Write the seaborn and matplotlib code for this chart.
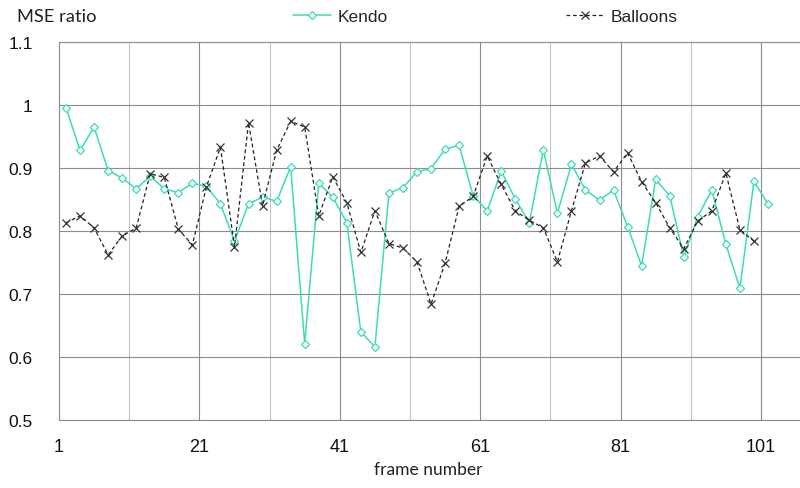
import numpy as np
import pandas as pd
import matplotlib
matplotlib.use('Agg')
import matplotlib.pyplot as plt
from matplotlib.ticker import FixedLocator
import seaborn as sns

# frame numbers (every second frame)
kendo_frames = np.arange(2, 103, 2)
balloons_frames = np.arange(2, 101, 2)

kendo_mse = [0.996, 0.928, 0.965, 0.896, 0.884, 0.867, 0.887, 0.867, 0.861, 0.876,
             0.871, 0.843, 0.784, 0.843, 0.854, 0.847, 0.902, 0.621, 0.876, 0.854,
             0.813, 0.640, 0.616, 0.860, 0.869, 0.894, 0.899, 0.930, 0.936, 0.856,
             0.832, 0.895, 0.851, 0.813, 0.929, 0.828, 0.906, 0.865, 0.849, 0.865,
             0.807, 0.745, 0.882, 0.856, 0.759, 0.823, 0.865, 0.779, 0.709, 0.879,
             0.843]
balloons_mse = [0.813, 0.824, 0.805, 0.762, 0.792, 0.805, 0.891, 0.885, 0.803, 0.778,
                0.870, 0.933, 0.775, 0.972, 0.840, 0.928, 0.974, 0.965, 0.824, 0.886,
                0.845, 0.766, 0.832, 0.780, 0.773, 0.751, 0.684, 0.749, 0.839, 0.855,
                0.919, 0.874, 0.832, 0.817, 0.805, 0.751, 0.832, 0.908, 0.919, 0.894,
                0.924, 0.878, 0.845, 0.805, 0.772, 0.816, 0.832, 0.892, 0.802, 0.784]

x_ticks = [1, 21, 41, 61, 81, 101]
x_minor = [11, 31, 51, 71, 91]
y_ticks = [0.5, 0.6, 0.7, 0.8, 0.9, 1.0, 1.1]
y_labels = ['0.5', '0.6', '0.7', '0.8', '0.9', '1', '1.1']

kendo_color = '#3ddbb8'
grid_major = '#8c8c8c'
grid_minor = '#c4c4c4'

sns.set_style('white')
plt.rcParams['font.family'] = ['Liberation Sans', 'DejaVu Sans']

fig = plt.figure(figsize=(8, 4.89), dpi=100)
ax = fig.add_axes([59 / 800, 68 / 489, 741 / 800, 378 / 489])

df_k = pd.DataFrame({'frame': kendo_frames, 'mse': kendo_mse})
df_b = pd.DataFrame({'frame': balloons_frames, 'mse': balloons_mse})

sns.lineplot(data=df_k, x='frame', y='mse', ax=ax, color=kendo_color, linewidth=1.1,
             marker='D', markersize=4.5, markerfacecolor='white',
             markeredgecolor=kendo_color, markeredgewidth=0.9, label='Kendo', zorder=3)
sns.lineplot(data=df_b, x='frame', y='mse', ax=ax, color='#222222', linewidth=0.9,
             linestyle=(0, (3, 2.2)), marker='x', markersize=6,
             markeredgecolor='#333333', markeredgewidth=0.9, label='Balloons', zorder=4)

ax.set_xlim(1, 106.56)
ax.set_ylim(0.5, 1.1)
ax.xaxis.set_major_locator(FixedLocator(x_ticks))
ax.xaxis.set_minor_locator(FixedLocator(x_minor))
ax.set_xticks(x_ticks)
ax.set_xticklabels([str(t) for t in x_ticks], fontsize=13)
ax.set_yticks(y_ticks)
ax.set_yticklabels(y_labels, fontsize=12.5)

ax.grid(True, which='major', color=grid_major, linewidth=0.8)
ax.grid(True, which='minor', axis='x', color=grid_minor, linewidth=0.8)
ax.set_axisbelow(True)
ax.tick_params(axis='both', which='major', direction='out', length=5,
               width=0.8, color=grid_major, labelcolor='#111111')
ax.tick_params(axis='x', which='major', pad=8)
ax.tick_params(axis='y', which='major', pad=14)
ax.tick_params(axis='x', which='minor', length=0)

for side in ['left', 'bottom', 'top']:
    ax.spines[side].set_color(grid_major)
    ax.spines[side].set_linewidth(0.8)
ax.spines['right'].set_visible(False)

ax.set_xlabel('')
ax.set_ylabel('')
fig.text(17 / 800, 1 - 17 / 489, 'MSE ratio', fontsize=13.2, family=['Lato', 'DejaVu Sans'],
         ha='left', va='center', color='#222222')
fig.text(428 / 800, 1 - 470 / 489, 'frame number', fontsize=12.5,
         family=['Lato', 'DejaVu Sans'], ha='center', va='center', color='#222222')

handles, labels = ax.get_legend_handles_labels()
ax.legend_.remove()
fig.legend(handles, labels, loc='center left', bbox_to_anchor=(293 / 800, 1 - 17 / 489),
           ncol=2, frameon=False, fontsize=12.5, handlelength=2.2, handletextpad=0.35,
           columnspacing=10.3, borderaxespad=0, borderpad=0)

fig.savefig('out.png', dpi=100)
